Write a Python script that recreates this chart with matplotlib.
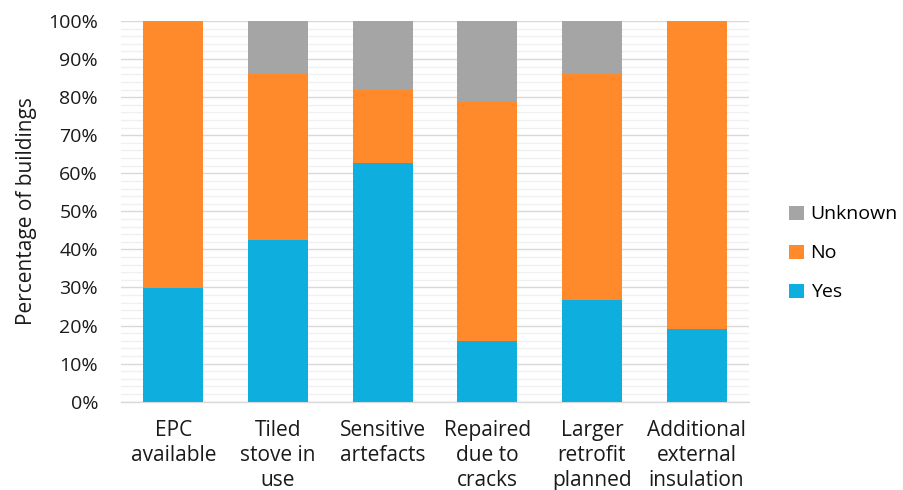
import matplotlib
matplotlib.use("Agg")
import matplotlib.pyplot as plt
import numpy as np
from matplotlib.ticker import MultipleLocator, PercentFormatter

plt.rcParams['font.family'] = ['Open Sans', 'DejaVu Sans']

# Share of buildings per question (percent)
categories = ["EPC\navailable", "Tiled\nstove in\nuse", "Sensitive\nartefacts",
              "Repaired\ndue to\ncracks", "Larger\nretrofit\nplanned",
              "Additional\nexternal\ninsulation"]
yes = [29.8, 42.6, 62.6, 16.0, 26.6, 19.1]
no = [70.2, 43.5, 19.2, 62.6, 59.5, 80.9]
unknown = [0.0, 13.9, 18.2, 21.4, 13.9, 0.0]

colors = {"Yes": "#0EAEDE", "No": "#FF8A2B", "Unknown": "#A5A5A5"}
text_color = '#1a1a1a'

fig = plt.figure(figsize=(9.04, 4.90), dpi=100)
ax = fig.add_axes([0.1338, 0.1802, 0.6947, 0.7769])

x = np.arange(len(categories))
width = 0.573
yes = np.array(yes)
no = np.array(no)
unknown = np.array(unknown)

b_yes = ax.bar(x, yes, width, color=colors["Yes"], zorder=3)
b_no = ax.bar(x, no, width, bottom=yes, color=colors["No"], zorder=3)
b_unk = ax.bar(x, unknown, width, bottom=yes + no, color=colors["Unknown"], zorder=3)

ax.set_xlim(-0.5, len(categories) - 0.5)
ax.set_ylim(0, 100)
ax.yaxis.set_major_locator(MultipleLocator(10))
ax.yaxis.set_minor_locator(MultipleLocator(2))
ax.yaxis.set_major_formatter(PercentFormatter(decimals=0))
ax.grid(axis='y', which='major', color='#D9D9D9', linewidth=1.0, zorder=0)
ax.grid(axis='y', which='minor', color='#F0F0F0', linewidth=1.0, zorder=0)

for side in ['top', 'right', 'left']:
    ax.spines[side].set_visible(False)
ax.spines['bottom'].set_color('#D9D9D9')
ax.spines['bottom'].set_linewidth(1.0)

ax.set_xticks(x)
ax.set_xticklabels(categories, fontsize=15, color=text_color, linespacing=1.25, va='top')
ax.tick_params(axis='x', length=0, pad=13)
ax.tick_params(axis='y', which='both', length=0, labelsize=14, labelcolor=text_color, pad=16.5)
ax.set_ylabel("Percentage of buildings", fontsize=15, color=text_color, labelpad=8)

fig.legend([b_unk, b_no, b_yes], ["Unknown", "No", "Yes"], loc='center left',
           bbox_to_anchor=(0.873, 0.4827), frameon=False, fontsize=14,
           borderpad=0, borderaxespad=0,
           handlelength=0.75, handleheight=0.75, handletextpad=0.35, labelspacing=1.08)

fig.savefig("out.png", dpi=100)
